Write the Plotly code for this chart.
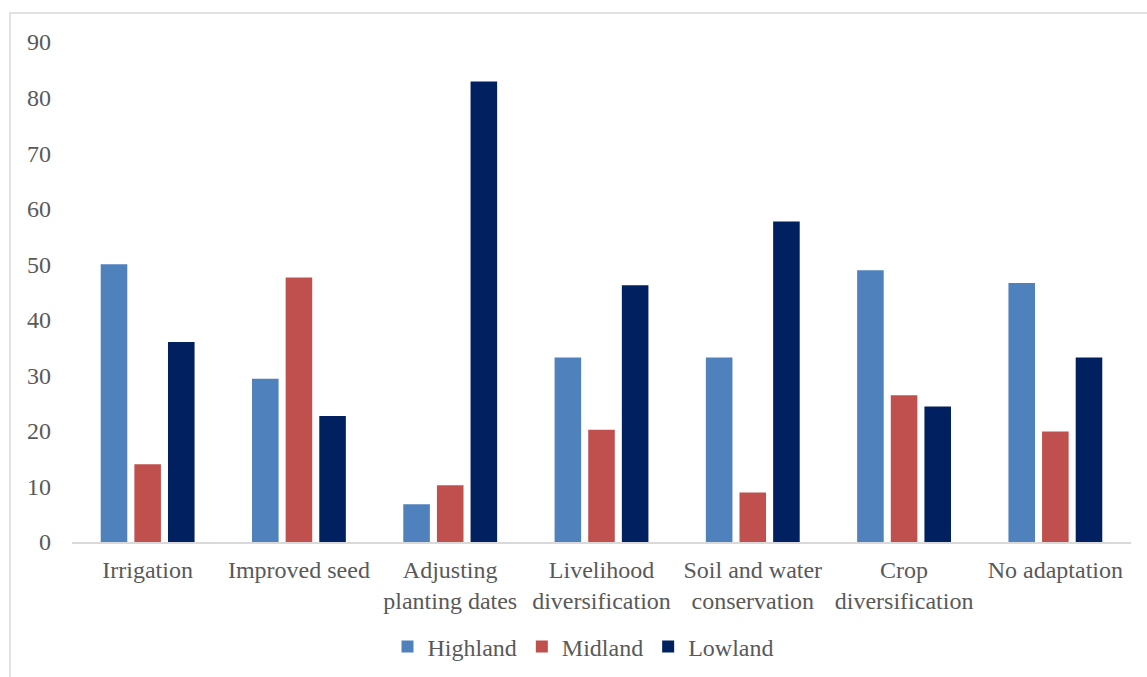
import plotly.graph_objects as go

categories = ["Irrigation", "Improved seed", "Adjusting<br>planting dates",
              "Livelihood<br>diversification", "Soil and water<br>conservation",
              "Crop<br>diversification", "No adaptation"]
highland = [50.0, 29.4, 6.8, 33.2, 33.2, 48.9, 46.6]
midland = [14.0, 47.6, 10.2, 20.2, 8.9, 26.4, 19.9]
lowland = [36.0, 22.7, 82.9, 46.2, 57.7, 24.4, 33.2]
y_ticks = [0, 10, 20, 30, 40, 50, 60, 70, 80, 90]

series = [("Highland", highland, "#4f81bd"),
          ("Midland", midland, "#c0504d"),
          ("Lowland", lowland, "#00205f")]

FONT = "Liberation Serif"
FS = 24

fig = go.Figure()
for name, vals, col in series:
    fig.add_trace(go.Bar(name=name, x=categories, y=vals, marker_color=col,
                         marker_line_width=0))

W, H = 1147, 677
ml, mr, mt, mb = 72, 16, 42, 135
pw, ph = W - ml - mr, H - mt - mb

def px(x):
    return (x - ml) / pw

def py(y):
    return (H - mb - y) / ph

fig.update_layout(
    width=W, height=H,
    margin=dict(l=ml, r=mr, t=mt, b=mb, autoexpand=False),
    paper_bgcolor="white", plot_bgcolor="white",
    font=dict(family=FONT, size=FS, color="#595959"),
    barmode="group", bargap=0.333, bargroupgap=0.21,
    showlegend=True,
    legend=dict(orientation="h", x=px(583), xanchor="center", y=py(647), yanchor="middle",
                font=dict(family=FONT, size=FS, color="#595959"), itemwidth=30,
                traceorder="normal"),
    shapes=[dict(type="rect", xref="paper", yref="paper",
                 x0=px(10), x1=px(1160), y0=py(700), y1=py(13),
                 line=dict(color="#d9d9d9", width=1.5), fillcolor="rgba(0,0,0,0)",
                 layer="below")],
)
fig.update_xaxes(showline=True, linecolor="#d9d9d9", linewidth=2, showgrid=False,
                 ticks="", tickfont=dict(family=FONT, size=FS, color="#595959"),
                 ticklabelstandoff=5, automargin=False)
fig.update_yaxes(range=[0, 90], tickvals=y_ticks, showgrid=False, zeroline=False,
                 showline=False, ticks="", tickfont=dict(family=FONT, size=FS, color="#595959"),
                 ticklabelstandoff=20, automargin=False)

fig.write_html("out.html")
